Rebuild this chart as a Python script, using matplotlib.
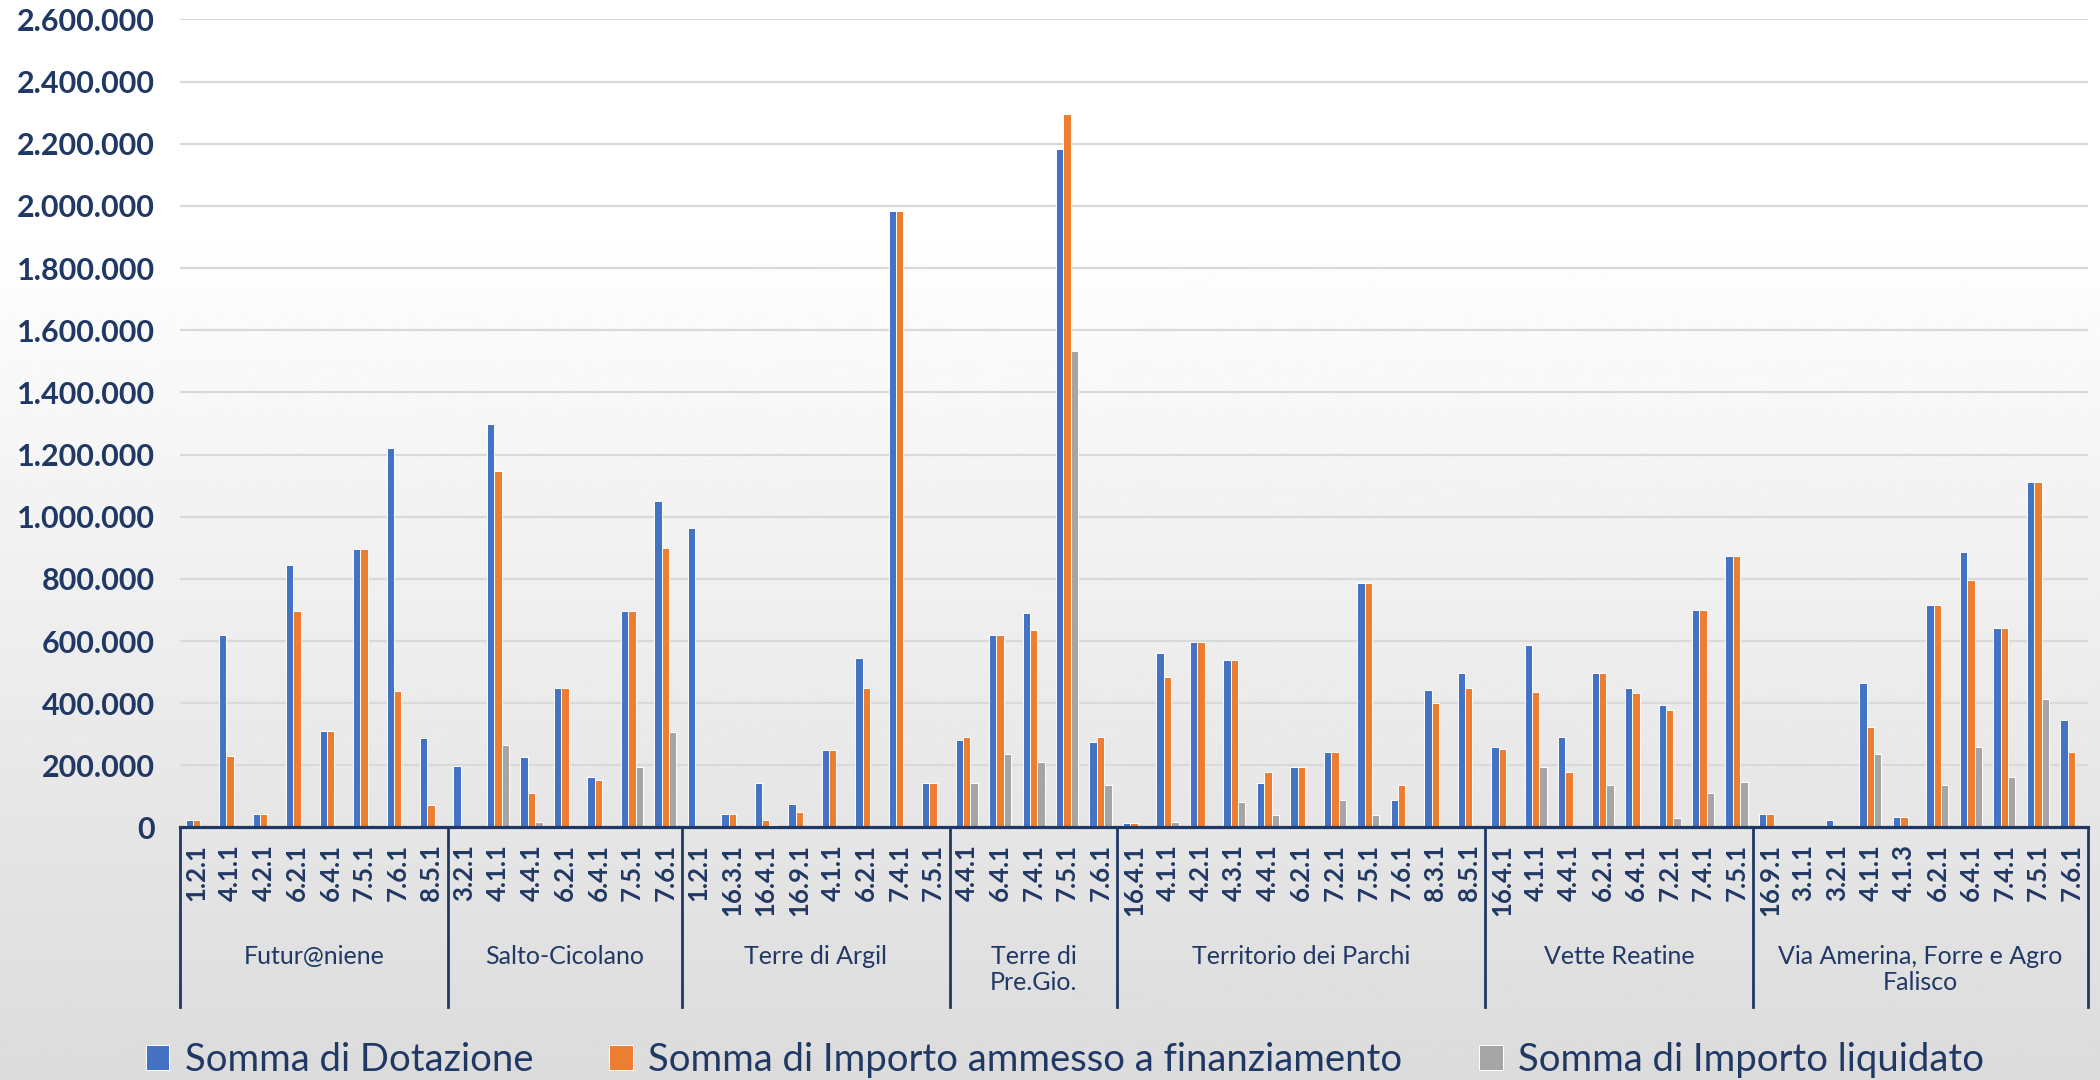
import numpy as np
import matplotlib
matplotlib.use("Agg")
import matplotlib.pyplot as plt
import matplotlib.transforms as mtransforms
from matplotlib.ticker import FuncFormatter

plt.rcParams['font.family'] = ['Lato', 'DejaVu Sans']

# GAL groups (as written on the axis) and their measure codes
groups = ["Futur@niene", "Salto-Cicolano", "Terre di Argil", "Terre di\nPre.Gio.",
          "Territorio dei Parchi", "Vette Reatine", "Via Amerina, Forre e Agro\nFalisco"]

codes = [
    ["1.2.1", "4.1.1", "4.2.1", "6.2.1", "6.4.1", "7.5.1", "7.6.1", "8.5.1"],
    ["3.2.1", "4.1.1", "4.4.1", "6.2.1", "6.4.1", "7.5.1", "7.6.1"],
    ["1.2.1", "16.3.1", "16.4.1", "16.9.1", "4.1.1", "6.2.1", "7.4.1", "7.5.1"],
    ["4.4.1", "6.4.1", "7.4.1", "7.5.1", "7.6.1"],
    ["16.4.1", "4.1.1", "4.2.1", "4.3.1", "4.4.1", "6.2.1", "7.2.1", "7.5.1", "7.6.1", "8.3.1", "8.5.1"],
    ["16.4.1", "4.1.1", "4.4.1", "6.2.1", "6.4.1", "7.2.1", "7.4.1", "7.5.1"],
    ["16.9.1", "3.1.1", "3.2.1", "4.1.1", "4.1.3", "6.2.1", "6.4.1", "7.4.1", "7.5.1", "7.6.1"],
]

# Somma di Dotazione
dotazione = [
    25000, 620000, 45000, 845000, 310000, 895000, 1222000, 287000,
    197000, 1297000, 228000, 448000, 163000, 695000, 1050000,
    963000, 45000, 142000, 77000, 249000, 544000, 1984000, 142000,
    281000, 619000, 689000, 2183000, 276000,
    13000, 560000, 598000, 539000, 142000, 195000, 244000, 786000, 88000, 442000, 496000,
    260000, 587000, 292000, 496000, 448000, 394000, 700000, 872000,
    45000, 0, 24000, 464000, 34000, 716000, 888000, 641000, 1113000, 346000,
]
# Somma di Importo ammesso a finanziamento
ammesso = [
    25000, 230000, 45000, 695000, 310000, 895000, 440000, 72000,
    0, 1147000, 110000, 448000, 152000, 695000, 900000,
    0, 45000, 24000, 50000, 249000, 448000, 1984000, 142000,
    292000, 619000, 636000, 2296000, 292000,
    13000, 485000, 598000, 539000, 179000, 195000, 244000, 786000, 136000, 399000, 448000,
    254000, 437000, 179000, 496000, 432000, 378000, 700000, 872000,
    45000, 0, 0, 324000, 34000, 716000, 797000, 641000, 1113000, 244000,
]
# Somma di Importo liquidato
liquidato = [
    0, 0, 0, 0, 0, 0, 0, 0,
    0, 265000, 19000, 0, 0, 195000, 308000,
    0, 0, 8000, 0, 0, 0, 0, 0,
    142000, 238000, 211000, 1534000, 136000,
    0, 18000, 0, 83000, 40000, 0, 88000, 40000, 0, 0, 0,
    0, 195000, 0, 136000, 0, 29000, 110000, 147000,
    0, 0, 0, 238000, 0, 136000, 260000, 163000, 415000, 0,
]

series = [("Somma di Dotazione", dotazione, "#4472C4"),
          ("Somma di Importo ammesso a finanziamento", ammesso, "#ED7D31"),
          ("Somma di Importo liquidato", liquidato, "#A5A5A5")]

navy = "#203864"
flat_codes = [c for g in codes for c in g]
x = np.arange(len(flat_codes))

fig = plt.figure(figsize=(21, 10.8), dpi=100)

# soft white-to-grey background like the Excel chart area
bg = fig.add_axes([0, 0, 1, 1], zorder=-10)
ramp = np.clip((np.linspace(0, 1, 400) - 0.2) / 0.8, 0, 1)
grad = 1.0 - 0.14 * ramp
bg.imshow(grad[:, None], cmap="gray", vmin=0, vmax=1, aspect="auto",
          extent=[0, 1, 0, 1], origin="upper")
bg.axis("off")

ax = fig.add_axes([0.0857, 0.2338, 0.9086, 0.7482])
ax.set_facecolor("none")

w = 0.22
for k, (name, vals, col) in enumerate(series):
    ax.bar(x + (k - 1) * w, vals, width=w, color=col, edgecolor="white",
           linewidth=0.7, label=name, zorder=2)

ax.set_xlim(-0.5, len(flat_codes) - 0.5)
ax.set_ylim(0, 2600000)
ax.set_yticks(np.arange(0, 2600001, 200000))
ax.yaxis.set_major_formatter(FuncFormatter(lambda v, p: f"{int(v):,}".replace(",", ".")))
ax.grid(axis="y", color="#D9D9D9", linewidth=1.6, zorder=0)
ax.set_axisbelow(True)
for s in ax.spines.values():
    s.set_visible(False)
ax.tick_params(axis="y", length=0, pad=18, labelsize=22, labelcolor=navy)
for t in ax.get_yticklabels():
    t.set_fontweight("bold")

ax.set_xticks(x, flat_codes, rotation=90, fontsize=18.5, fontweight="bold", color=navy)
ax.tick_params(axis="x", length=0, pad=12)

# axis line and group brackets
ax.axhline(0, color=navy, linewidth=2.3, zorder=4, clip_on=False)
trans = mtransforms.blended_transform_factory(ax.transData, ax.transAxes)
bounds = np.cumsum([0] + [len(g) for g in codes]) - 0.5
for b in bounds:
    ax.plot([b, b], [0, -0.222], color=navy, linewidth=2.0, transform=trans, clip_on=False)
for i, g in enumerate(groups):
    ax.text((bounds[i] + bounds[i + 1]) / 2, -0.145, g, transform=trans, ha="center",
            va="top", fontsize=18, color=navy, linespacing=1.15)

fig.legend(loc="center", bbox_to_anchor=(0.507, 1 - 1060 / 1080), ncol=3, frameon=False,
           fontsize=27.5, handlelength=0.62, handleheight=0.62, handletextpad=0.4,
           columnspacing=2.0, labelcolor=navy)

fig.savefig("out.png", dpi=100)
